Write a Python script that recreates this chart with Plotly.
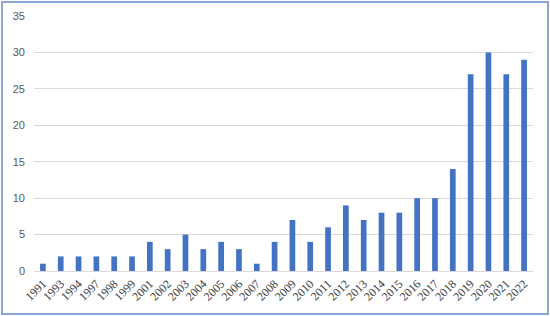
import plotly.graph_objects as go

# publication years and counts
years = ['1991', '1993', '1994', '1997', '1998', '1999', '2001', '2002', '2003', '2004',
         '2005', '2006', '2007', '2008', '2009', '2010', '2011', '2012', '2013', '2014',
         '2015', '2016', '2017', '2018', '2019', '2020', '2021', '2022']
counts = [1, 2, 2, 2, 2, 2, 4, 3, 5, 3,
          4, 3, 1, 4, 7, 4, 6, 9, 7, 8,
          8, 10, 10, 14, 27, 30, 27, 29]

fig = go.Figure(go.Bar(x=years, y=counts, marker_color='#4472c4', marker_line_width=0))

W, H = 550, 316
L, R, T, B = 34, 17, 16, 45
pw, ph = W - L - R, H - T - B

# outer frame around the whole picture
fig.add_shape(type='rect', xref='paper', yref='paper',
              x0=(2 - L) / pw, x1=(W - 2 - L) / pw,
              y0=-(B - 2) / ph, y1=1 + (T - 2) / ph,
              line=dict(color='#8ba6d0', width=2), layer='below')

fig.update_layout(
    width=W, height=H,
    margin=dict(l=L, r=R, t=T, b=B, autoexpand=False),
    plot_bgcolor='white', paper_bgcolor='white',
    bargap=0.68,
    showlegend=False,
    xaxis=dict(type='category', tickangle=-45, showgrid=False, showline=True,
               linecolor='#d9d9d9', linewidth=1, ticks='', automargin=False,
               tickfont=dict(family='Liberation Serif', size=12, color='#404040')),
    yaxis=dict(range=[0, 35], dtick=5, showgrid=True, gridcolor='#d9d9d9', gridwidth=1,
               zeroline=False, ticks='', ticklabelstandoff=8, automargin=False,
               tickfont=dict(family='Liberation Sans', size=11, color='#595959')),
)

# drop the browser's default body margin so the figure fills the window
fig.write_html("out.html", config={'displayModeBar': False},
               post_script="document.body.style.margin='0';")
